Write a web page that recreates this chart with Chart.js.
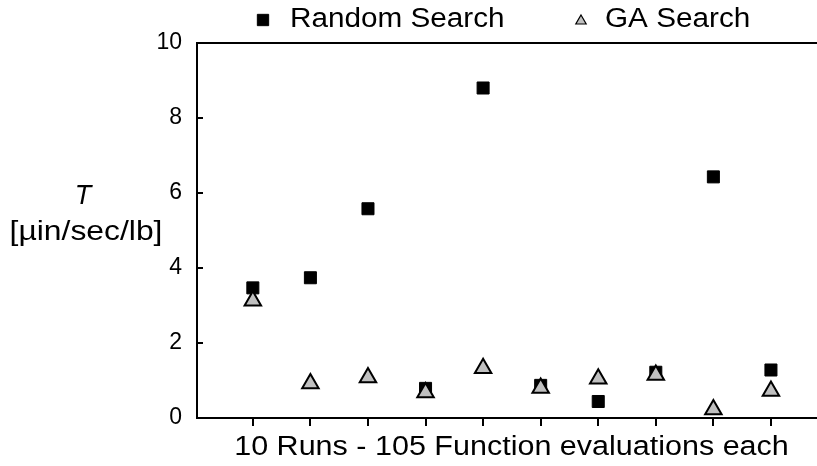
<!DOCTYPE html>
<html><head><meta charset="utf-8">
<script src="https://cdn.jsdelivr.net/npm/chart.js@4.4.0/dist/chart.umd.min.js"></script>
<style>html,body{margin:0;padding:0;background:#fff;} #wrap{width:817px;height:466px;position:relative;}</style>
</head><body><div id="wrap"><canvas id="c"></canvas></div>
<script>
const runs = [1, 2, 3, 4, 5, 6, 7, 8, 9, 10];
const randomSearch = [3.47, 3.74, 5.58, 0.79, 8.80, 0.87, 0.44, 1.22, 6.43, 1.28];
const gaSearch = [3.13, 0.92, 1.08, 0.68, 1.33, 0.80, 1.05, 1.15, 0.23, 0.72];
const yTickValues = [0, 2, 4, 6, 8, 10];
const seriesNames = ['Random Search', 'GA Search'];
const xTitle = '10 Runs - 105 Function evaluations each';
const yTitle = ['T', '[µin/sec/lb]'];

const FONT = 'Arial, "Liberation Sans", Helvetica, sans-serif';
Chart.defaults.font.family = FONT;
Chart.defaults.color = '#000';

const toPts = arr => arr.map((v, i) => ({x: runs[i], y: v}));

function stretchedText(ctx, text, x, y, font, sx, align) {
  ctx.save();
  ctx.font = font;
  ctx.textBaseline = 'middle';
  ctx.textAlign = 'left';
  const w = ctx.measureText(text).width * sx;
  let x0 = x;
  if (align === 'center') x0 = x - w / 2;
  ctx.translate(x0, y);
  ctx.scale(sx, 1);
  ctx.fillText(text, 0, 0);
  ctx.restore();
}

const decor = {
  id: 'decor',
  afterDraw(chart) {
    const ctx = chart.ctx;
    const {left, top, right, bottom} = chart.chartArea;
    const ys = chart.scales.y;
    ctx.save();
    ctx.strokeStyle = '#000';
    ctx.lineWidth = 2;
    ctx.beginPath();
    ctx.moveTo(left - 1, top);
    ctx.lineTo(chart.width, top);
    ctx.moveTo(right - 1, bottom);
    ctx.lineTo(chart.width, bottom);
    ctx.stroke();
    ys.ticks.forEach(t => {
      if (t.value <= ys.min || t.value >= ys.max) return;
      const py = Math.round(ys.getPixelForValue(t.value));
      ctx.beginPath();
      ctx.moveTo(left, py);
      ctx.lineTo(left + 6, py);
      ctx.stroke();
    });
    ctx.fillStyle = '#000';
    // y title
    ctx.textAlign = 'center';
    ctx.textBaseline = 'middle';
    ctx.font = 'italic 27px ' + FONT;
    ctx.fillText(yTitle[0], 83, 196);
    stretchedText(ctx, yTitle[1], 86, 233, '27px ' + FONT, 1.18, 'center');
    // x title
    stretchedText(ctx, xTitle, (233 + 790) / 2, 448, '27px ' + FONT, 1.13, 'center');
    // legend
    const ds = chart.data.datasets;
    const items = [{x: 263, tx: 290}, {x: 581, tx: 605}];
    const ly = 20;
    ds.forEach((d, i) => {
      ctx.fillStyle = d.backgroundColor;
      ctx.strokeStyle = d.borderColor;
      ctx.lineWidth = i === 0 ? 1 : 1.2;
      Chart.helpers.drawPoint(ctx, {pointStyle: d.pointStyle, radius: i === 0 ? 8 : 6, borderWidth: ctx.lineWidth}, items[i].x, ly + (i === 0 ? 0 : 1));
      ctx.fillStyle = '#000';
      stretchedText(ctx, d.label, items[i].tx, ly, '27px ' + FONT, 1.1, 'left');
    });
    ctx.restore();
  }
};

new Chart(document.getElementById('c'), {
  type: 'scatter',
  data: {
    datasets: [
      {label: seriesNames[0], data: toPts(randomSearch), pointStyle: 'rect', pointRadius: 8.5, pointHoverRadius: 8.5,
       backgroundColor: '#000', borderColor: '#000', borderWidth: 1, order: 1},
      {label: seriesNames[1], data: toPts(gaSearch), pointStyle: 'triangle', pointRadius: 9.5, pointHoverRadius: 9.5,
       backgroundColor: '#c0c0c0', borderColor: '#000', borderWidth: 2, order: 0}
    ]
  },
  options: {
    responsive: true,
    maintainAspectRatio: false,
    animation: false,
    layout: {autoPadding: false, padding: {top: 43, left: 0, right: 0, bottom: 0}},
    plugins: {legend: {display: false}, tooltip: {enabled: false}},
    scales: {
      x: {
        type: 'linear', min: 0.03, max: 10.8,
        afterBuildTicks: axis => { axis.ticks = runs.map(v => ({value: v})); },
        afterFit: s => { s.height = 48; s.paddingLeft = 0; s.paddingRight = 0; },
        ticks: {display: false},
        grid: {drawOnChartArea: false, drawTicks: true, tickLength: 8, color: '#000', lineWidth: 2},
        border: {display: true, color: '#000', width: 2},
        title: {display: false}
      },
      y: {
        min: 0, max: 10,
        afterBuildTicks: axis => { axis.ticks = yTickValues.map(v => ({value: v})); },
        afterFit: s => { s.width = 197; },
        ticks: {font: {size: 23}, color: '#000', padding: 15},
        grid: {display: false, drawTicks: false},
        border: {display: true, color: '#000', width: 2}
      }
    }
  },
  plugins: [decor]
});
</script>
</body></html>
